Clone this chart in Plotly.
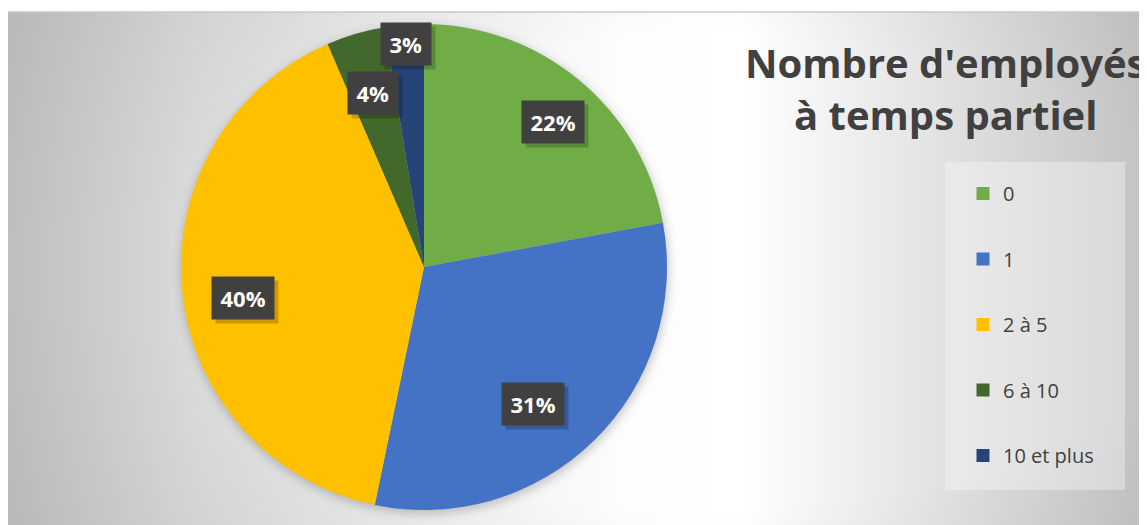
import math
import base64
import plotly.graph_objects as go

# Répartition des entreprises selon le nombre d'employés à temps partiel
categories = ["0", "1", "2 à 5", "6 à 10", "10 et plus"]
counts = [17, 24, 31, 3, 2]
colors = ["#70AD47", "#4472C4", "#FFC000", "#43682B", "#264478"]

title_text = "Nombre d'employés<br>à temps partiel"

W, H = 1147, 525
# the page body adds an 8px margin, so everything below is in figure pixels
TOP = 4  # white strip above the chart area
cx, cy, R = 416, 259, 243
# where each percentage box sits: fraction of radius, and nudge from the mid angle (deg)
label_radius = [0.80, 0.72, 0.757, 0.745, 0.92]
label_turn = [2, 6, -4, 0, 0]

FONT = "Open Sans"
DARK = "#404040"

# soft grey/white background, drawn as an inline svg
svg = f"""<svg xmlns='http://www.w3.org/2000/svg' width='{W}' height='{H - TOP}'>
<defs>
<linearGradient id='g' x1='0' y1='0' x2='1' y2='0'>
<stop offset='0' stop-color='#c3c3c3'/>
<stop offset='0.16' stop-color='#dadada'/>
<stop offset='0.53' stop-color='#fcfcfc'/>
<stop offset='0.64' stop-color='#ffffff'/>
<stop offset='1' stop-color='#c2c2c2'/>
</linearGradient>
<radialGradient id='v' cx='0.6' cy='0.5' r='0.75'>
<stop offset='0.6' stop-color='#000' stop-opacity='0'/>
<stop offset='1' stop-color='#000' stop-opacity='0.05'/>
</radialGradient>
<filter id='b' x='-20%' y='-20%' width='140%' height='140%'><feGaussianBlur stdDeviation='5'/></filter>
</defs>
<rect width='100%' height='100%' fill='url(#g)'/>
<rect width='100%' height='100%' fill='url(#v)'/>
<circle cx='{cx + 1}' cy='{cy - TOP + 3}' r='{R + 1}' fill='#000' fill-opacity='0.2' filter='url(#b)'/>
</svg>"""
bg_src = "data:image/svg+xml;base64," + base64.b64encode(svg.encode("utf-8")).decode()

fig = go.Figure()

fig.add_trace(go.Pie(
    labels=categories,
    values=counts,
    marker=dict(colors=colors, line=dict(width=0)),
    sort=False,
    direction="clockwise",
    rotation=0,
    textinfo="none",
    hoverinfo="label+percent",
    showlegend=False,
    domain=dict(x=[(cx - R) / W, (cx + R) / W], y=[1 - (cy + R) / H, 1 - (cy - R) / H]),
))

# legend entries, one per category so they can be spaced out like the original
for cat, col in zip(categories, colors):
    fig.add_trace(go.Scatter(
        x=[None], y=[None], mode="markers",
        marker=dict(symbol="square", size=13, color=col),
        name=cat, legendgroup=cat, hoverinfo="skip",
    ))

# percentage boxes placed from the slice mid angles
total = sum(counts)
annotations = []
cum = 0
for v, f, turn in zip(counts, label_radius, label_turn):
    mid = (cum + v / 2) / total
    cum += v
    th = 2 * math.pi * mid + math.radians(turn)
    px = cx + R * f * math.sin(th)
    py = cy - R * f * math.cos(th)
    pct = f"{round(100 * v / total)}%"
    # fixed box size so the shadow and the box line up
    bw, bh = 12.6 * (len(pct) - 1) + 21, 26
    annotations.append(dict(
        x=px / W, y=1 - py / H, xref="paper", yref="paper", showarrow=False,
        xanchor="center", yanchor="middle", text=" ", width=bw, height=bh,
        bgcolor="rgba(0,0,0,0.2)", borderpad=8, xshift=4, yshift=-4,
    ))
    annotations.append(dict(
        x=px / W, y=1 - py / H, xref="paper", yref="paper", showarrow=False,
        xanchor="center", yanchor="middle", text=f"<b>{pct}</b>", width=bw, height=bh,
        font=dict(family=FONT, size=22, color="white"),
        bgcolor=DARK, borderpad=8,
    ))

annotations.append(dict(
    x=937 / W, y=1 - 81 / H, xref="paper", yref="paper", showarrow=False,
    xanchor="center", yanchor="middle",
    text=f"<b>{title_text}</b>", align="center",
    font=dict(family=FONT, size=40, color=DARK),
))

fig.update_layout(
    width=W, height=H,
    margin=dict(l=0, r=0, t=0, b=0),
    paper_bgcolor="white",
    plot_bgcolor="rgba(0,0,0,0)",
    xaxis=dict(visible=False),
    yaxis=dict(visible=False),
    annotations=annotations,
    images=[dict(
        source=bg_src, xref="paper", yref="paper",
        x=0, y=1 - TOP / H, sizex=1, sizey=(H - TOP) / H,
        xanchor="left", yanchor="top", sizing="stretch", layer="below",
    )],
    shapes=[
        dict(type="rect", xref="paper", yref="paper",
             x0=937 / W, x1=1117 / W, y0=1 - 482 / H, y1=1 - 154 / H,
             fillcolor="rgba(255,255,255,0.33)", line=dict(width=0), layer="below"),
        dict(type="line", xref="paper", yref="paper",
             x0=0, x1=1, y0=1 - TOP / H, y1=1 - TOP / H,
             line=dict(color="#c8c8c8", width=1.5)),
    ],
    legend=dict(
        x=955 / W, y=1 - 166 / H, xanchor="left", yanchor="top",
        bgcolor="rgba(0,0,0,0)", tracegroupgap=36.5,
        font=dict(family=FONT, size=20, color=DARK),
        itemclick=False, itemdoubleclick=False,
    ),
    showlegend=True,
)

fig.write_html("out.html")
